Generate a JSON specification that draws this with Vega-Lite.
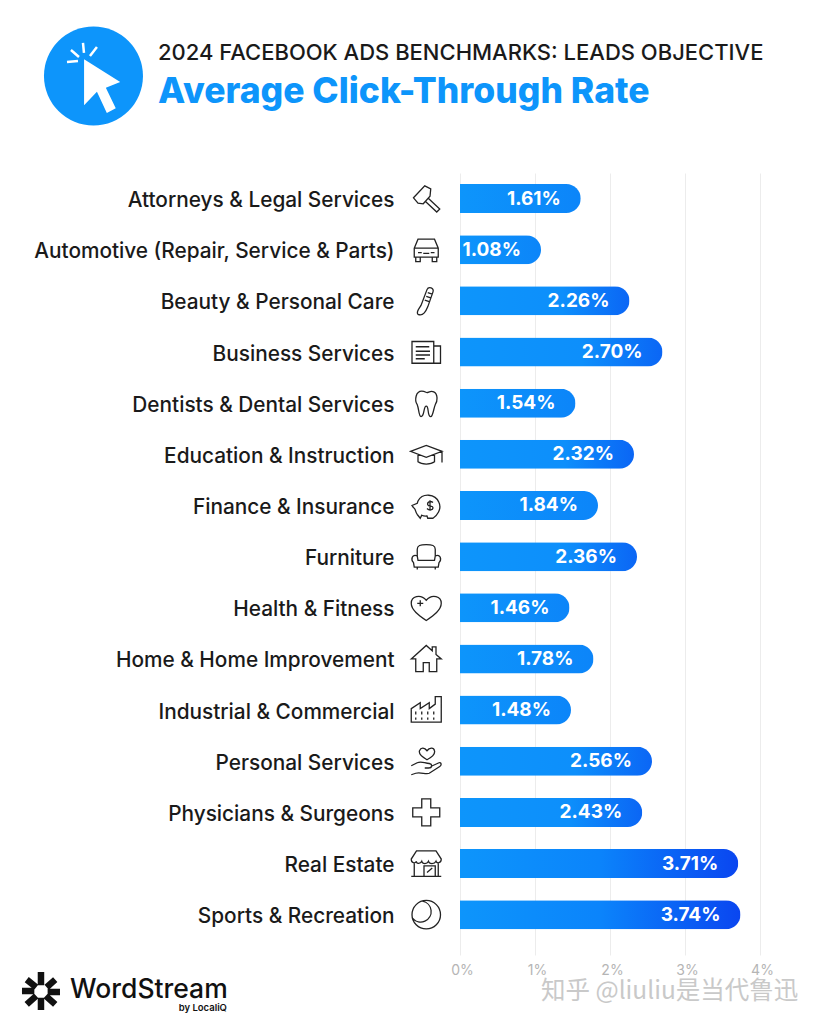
{"$schema":"https://vega.github.io/schema/vega-lite/v6.json","autosize":{"type":"none"},"width":300,"height":782,"padding":{"left":460,"top":173,"right":61,"bottom":70},"background":"white","title":{"text":"2024 FACEBOOK ADS BENCHMARKS: LEADS OBJECTIVE","subtitle":"Average Click-Through Rate","anchor":"start","frame":"group","dx":-302,"offset":-85,"font":"Inter","fontSize":22,"fontWeight":500,"color":"#1a1a1a","subtitleFont":"Inter","subtitleFontSize":35.5,"subtitleFontWeight":800,"subtitleColor":"#0d95fb","subtitlePadding":10},"config":{"view":{"stroke":null},"font":"Inter"},"resolve":{"scale":{"y":"independent"},"axis":{"y":"independent"}},"layer":[{"data":{"values":[{"industry":"Attorneys & Legal Services","rate":0.0161},{"industry":"Automotive (Repair, Service & Parts)","rate":0.0108},{"industry":"Beauty & Personal Care","rate":0.0226},{"industry":"Business Services","rate":0.027},{"industry":"Dentists & Dental Services","rate":0.0154},{"industry":"Education & Instruction","rate":0.0232},{"industry":"Finance & Insurance","rate":0.0184},{"industry":"Furniture","rate":0.0236},{"industry":"Health & Fitness","rate":0.0146},{"industry":"Home & Home Improvement","rate":0.0178},{"industry":"Industrial & Commercial","rate":0.0148},{"industry":"Personal Services","rate":0.0256},{"industry":"Physicians & Surgeons","rate":0.0243},{"industry":"Real Estate","rate":0.0371},{"industry":"Sports & Recreation","rate":0.0374}]},"encoding":{"y":{"field":"industry","type":"nominal","sort":null,"title":null,"scale":{"paddingInner":0.433,"paddingOuter":0.36,"align":0.3},"axis":{"domain":false,"ticks":false,"labelPadding":66,"labelOffset":2.5,"labelFont":"Inter","labelFontSize":20.8,"labelFontWeight":500,"labelColor":"#1a1a1a","labelLimit":400}}},"layer":[{"mark":{"type":"bar","cornerRadiusEnd":14.5},"encoding":{"x":{"field":"rate","type":"quantitative","title":null,"scale":{"domain":[0,0.04],"nice":false},"axis":{"values":[0,0.01,0.02,0.03,0.04],"format":".0%","domain":false,"ticks":false,"grid":true,"gridColor":"#ececec","gridWidth":1,"labelFont":"Inter","labelFontSize":14,"labelFontWeight":400,"labelColor":"#b5b5b5","labelPadding":8,"labelFlush":false,"labelOverlap":false,"labelOffset":2}},"color":{"condition":[{"test":"datum.rate>0.03","value":{"gradient":"linear","x1":0,"x2":1,"y1":0,"y2":0,"stops":[{"offset":0,"color":"#0d95fb"},{"offset":0.5,"color":"#0b84fb"},{"offset":1,"color":"#0a46f0"}]}},{"test":"datum.rate>0.02","value":{"gradient":"linear","x1":0,"x2":1,"y1":0,"y2":0,"stops":[{"offset":0,"color":"#0d95fb"},{"offset":0.6,"color":"#0d8ffb"},{"offset":1,"color":"#0b66f5"}]}}],"value":{"gradient":"linear","x1":0,"x2":1,"y1":0,"y2":0,"stops":[{"offset":0,"color":"#0d95fb"},{"offset":1,"color":"#0c85f9"}]}}}},{"mark":{"type":"text","align":"right","baseline":"middle","dx":-20,"font":"Inter","fontSize":19,"fontWeight":700,"color":"white"},"encoding":{"x":{"field":"rate","type":"quantitative"},"text":{"field":"rate","type":"quantitative","format":".2%"}}},{"mark":{"type":"point","filled":false,"stroke":"#222222","strokeWidth":1.3,"size":900,"opacity":1},"encoding":{"x":{"datum":-0.0045,"type":"quantitative"},"shape":{"field":"industry","type":"nominal","sort":null,"legend":null,"scale":{"domain":["Attorneys & Legal Services","Automotive (Repair, Service & Parts)","Beauty & Personal Care","Business Services","Dentists & Dental Services","Education & Instruction","Finance & Insurance","Furniture","Health & Fitness","Home & Home Improvement","Industrial & Commercial","Personal Services","Physicians & Surgeons","Real Estate","Sports & Recreation"],"range":["M-0.85 -0.05 L-0.1 -0.85 L0.3 -0.65 L0.25 -0.15 L-0.2 0.35 L-0.55 0.3 Z M0.15 0 L0.9 0.7 L0.7 0.9 L-0.05 0.2","M-0.8 -0.1 L-0.55 -0.7 L0.55 -0.7 L0.8 -0.1 L0.8 0.5 L-0.8 0.5 Z M-0.8 -0.1 L0.8 -0.1 M-0.7 0.5 L-0.7 0.8 L-0.4 0.8 L-0.4 0.5 M0.4 0.5 L0.4 0.8 L0.7 0.8 L0.7 0.5 M-0.55 0.2 L-0.3 0.2 M0.3 0.2 L0.55 0.2 M-0.2 0.25 L0.2 0.25","M-0.55 0.9 C-0.7 0.75 -0.5 0.55 -0.35 0.3 L0.05 -0.75 C0.15 -1 0.55 -0.85 0.45 -0.6 L0.1 0.4 C0 0.65 -0.2 1.05 -0.55 0.9 Z M0.1 -0.55 L0.4 -0.45 M0 -0.3 L0.3 -0.2 M-0.1 -0.05 L0.2 0.05","M-0.95 -0.7 L0.5 -0.7 L0.5 0.75 L-0.95 0.75 Z M0.5 -0.4 L0.95 -0.4 L0.95 0.75 L0.5 0.75 M-0.7 -0.35 L0.2 -0.35 M-0.7 -0.05 L0.25 -0.05 M-0.7 0.2 L0.25 0.2 M-0.7 0.45 L-0.1 0.45","M-0.3 -0.8 C-0.1 -0.8 0 -0.7 0.05 -0.7 C0.15 -0.7 0.3 -0.85 0.5 -0.75 C0.8 -0.6 0.75 -0.1 0.6 0.1 C0.5 0.3 0.45 0.9 0.3 0.9 C0.05 0.9 0.2 0.2 0 0.2 C-0.2 0.2 -0.1 0.9 -0.35 0.9 C-0.5 0.9 -0.5 0.3 -0.6 0.1 C-0.8 -0.2 -0.7 -0.8 -0.3 -0.8 Z","M-1.05 -0.2 L0 -0.6 L1.05 -0.2 L0 0.2 Z M-0.55 0 L-0.55 0.5 C-0.3 0.7 0.3 0.7 0.55 0.5 L0.55 0 M1.05 -0.2 L1.05 0.55","M-0.55 -0.3 C-0.25 -0.85 0.6 -0.8 0.85 -0.2 C1.05 0.25 0.7 0.7 0.45 0.85 L0.1 0.85 L0.05 0.7 C-0.1 0.72 -0.2 0.7 -0.3 0.65 L-0.4 0.85 L-0.6 0.6 C-0.75 0.4 -0.7 0.2 -0.85 0.15 L-0.95 0 L-0.6 -0.15 Z M0.25 -0.35 L0.25 0.35 M0.45 -0.2 C0.25 -0.35 0.05 -0.2 0.1 -0.05 C0.15 0.1 0.45 0 0.45 0.15 C0.45 0.3 0.2 0.35 0.05 0.2","M-0.6 -0.05 L-0.6 -0.5 C-0.6 -0.75 -0.4 -0.8 0 -0.8 C0.4 -0.8 0.6 -0.75 0.6 -0.5 L0.6 -0.05 M-0.6 -0.05 C-0.95 -0.2 -1.05 0.2 -0.85 0.4 L-0.8 0.7 L0.8 0.7 L0.85 0.4 C1.05 0.2 0.95 -0.2 0.6 -0.05 L0.55 0.25 L-0.55 0.25 Z M-0.6 0.7 L-0.6 0.85 M0.6 0.7 L0.6 0.85","M0 0.85 C-0.5 0.5 -1 0.15 -1 -0.3 C-1 -0.75 -0.4 -0.95 0 -0.5 C0.4 -0.95 1 -0.75 1 -0.3 C1 0.15 0.5 0.5 0 0.85 Z M-0.6 -0.3 L-0.2 -0.3 M-0.4 -0.5 L-0.4 -0.1","M-1 0 L0 -0.9 L0.4 -0.55 L0.4 -0.8 L0.65 -0.8 L0.65 -0.3 L1 0 L0.7 0 L0.7 0.85 L0.2 0.85 L0.2 0.25 L-0.2 0.25 L-0.2 0.85 L-0.7 0.85 L-0.7 0 Z","M-1 0.8 L-1 -0.1 L-0.4 -0.5 L-0.4 -0.1 L0.2 -0.5 L0.2 -0.1 L0.6 -0.4 L0.6 -0.9 L1 -0.9 L1 0.8 Z M-0.7 0.1 L-0.7 0.3 M-0.3 0.1 L-0.3 0.3 M0.1 0.1 L0.1 0.3 M0.5 0.1 L0.5 0.3 M-0.7 0.5 L-0.7 0.65 M-0.3 0.5 L-0.3 0.65 M0.1 0.5 L0.1 0.65 M0.5 0.5 L0.5 0.65","M0.05 -0.1 C-0.4 -0.35 -0.5 -0.55 -0.45 -0.7 C-0.35 -0.95 -0.1 -0.9 0.05 -0.7 C0.2 -0.9 0.5 -0.95 0.55 -0.7 C0.6 -0.5 0.45 -0.3 0.05 -0.1 Z M-1 0.3 L-0.6 0.1 C-0.3 -0.05 -0.1 0.15 0.2 0.15 C0.45 0.2 0.4 0.45 0.15 0.45 L-0.1 0.45 M0.3 0.35 L0.85 0.1 C1 0.05 1.05 0.25 0.9 0.35 L0.2 0.8 C0 0.9 -0.4 0.7 -0.7 0.8 L-1 0.9","M-0.3 -0.9 L0.3 -0.9 L0.3 -0.3 L0.9 -0.3 L0.9 0.3 L0.3 0.3 L0.3 0.9 L-0.3 0.9 L-0.3 0.3 L-0.9 0.3 L-0.9 -0.3 L-0.3 -0.3 Z","M-0.65 -0.85 L0.65 -0.85 L1 -0.3 C1 0 0.7 0 0.65 -0.15 C0.55 0.05 0.2 0.05 0.15 -0.15 C0.05 0.05 -0.25 0.05 -0.3 -0.15 C-0.4 0.05 -0.7 0 -0.65 -0.15 C-0.75 0 -1 0 -1 -0.3 Z M-0.8 0 L-0.8 0.85 M0.8 0 L0.8 0.85 M-1 0.85 L1 0.85 M-0.15 0.85 L-0.15 0.15 L0.6 0.15 L0.6 0.85 M0.05 0.6 L0.4 0.3","M-0.95 0 A0.95 0.95 0 1 1 0.95 0 A0.95 0.95 0 1 1 -0.95 0 M-0.25 -0.9 A0.7 0.7 0 1 1 -0.9 0.25"]}}}}]},{"encoding":{"x":{"field":"x","type":"quantitative"},"y":{"field":"row","type":"quantitative","title":null,"scale":{"domain":[0,15.29],"reverse":true,"nice":false,"zero":false},"axis":null}},"layer":[{"data":{"values":[{"x":-0.04887,"row":-1.897}]},"mark":{"type":"point","filled":true,"shape":"circle","size":9801,"color":"#0d95fb","opacity":1}},{"data":{"values":[{"x":-0.04887,"row":-1.897}]},"mark":{"type":"point","filled":true,"size":9801,"color":"white","opacity":1,"shape":"M-0.19 -0.34 L-0.19 0.59 L0.07 0.32 L0.27 0.75 L0.45 0.65 L0.25 0.24 L0.54 0.12 Z"}},{"data":{"values":[{"x":-0.04887,"row":-1.897}]},"mark":{"type":"point","filled":false,"size":9801,"stroke":"white","strokeWidth":2.5,"opacity":1,"shape":"M-0.535 -0.283 L-0.313 -0.303 M-0.455 -0.525 L-0.293 -0.384 M-0.212 -0.667 L-0.192 -0.465 M0.07 -0.586 L-0.071 -0.404"}},{"data":{"values":[{"x":-0.05587,"row":15.995}]},"mark":{"type":"point","filled":false,"size":1444,"stroke":"#111111","strokeWidth":6.5,"opacity":1,"shape":"M0 -1 L0 -0.3 M0.75 -0.6 L0.3 -0.2 M1 0.05 L0.35 0.05 M0.75 0.7 L0.25 0.25 M0 1 L0 0.35 M-0.75 0.7 L-0.25 0.25 M-1 0 L-0.35 0 M-0.75 -0.6 L-0.25 -0.2"}},{"data":{"values":[{"x":-0.052,"row":15.97,"label":"WordStream"}]},"mark":{"type":"text","align":"left","baseline":"middle","font":"Inter","fontSize":26.5,"fontWeight":500,"color":"#111111"},"encoding":{"text":{"field":"label"}}},{"data":{"values":[{"x":-0.03107,"row":16.32,"label":"by LocaliQ"}]},"mark":{"type":"text","align":"right","baseline":"middle","font":"Inter","fontSize":9.5,"fontWeight":600,"color":"#111111"},"encoding":{"text":{"field":"label"}}},{"data":{"values":[{"x":0.0108,"row":16.02,"label":"知乎 @liuliu是当代鲁迅"}]},"mark":{"type":"text","align":"left","baseline":"middle","font":"Noto Sans CJK SC","fontSize":24.5,"color":"#c9c9c9"},"encoding":{"text":{"field":"label"}}}]}]}
